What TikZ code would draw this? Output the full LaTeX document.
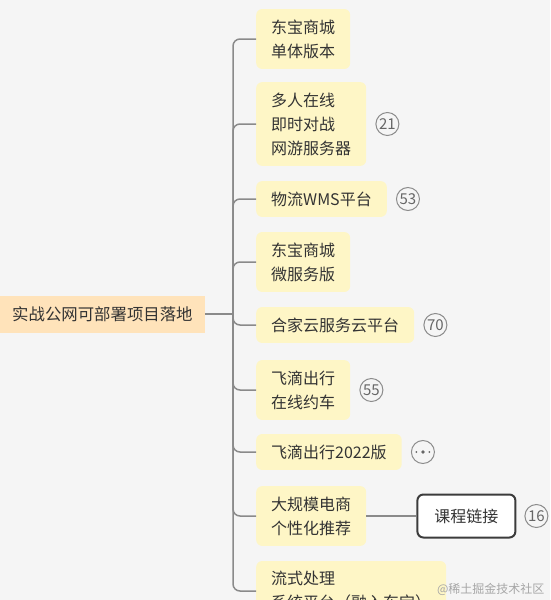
\documentclass[tikz,border=0pt]{standalone}
\usepackage{fontspec}
\setmainfont{Noto Sans CJK SC}
\usetikzlibrary{positioning}
\definecolor{bgc}{HTML}{F5F5F5}
\definecolor{leafy}{HTML}{FEF6C6}
\definecolor{rootc}{HTML}{FFE3BA}
\definecolor{lineg}{HTML}{8A8A8A}
\definecolor{badgeg}{HTML}{8C8C8C}
\definecolor{badgetxt}{HTML}{666666}
\definecolor{txt}{HTML}{333333}
\definecolor{boxb}{HTML}{3C3C3C}
\begin{document}
\begin{tikzpicture}[x=1pt,y=-1pt,
  rootbox/.style={fill=rootc, anchor=west, inner xsep=12pt, inner ysep=0pt, minimum height=37pt, font=\fontsize{16.4}{24}\selectfont, text=txt},
  leaf/.style={fill=leafy, rounded corners=6pt, anchor=west, align=left, inner xsep=15pt, inner ysep=10.5pt, font=\fontsize{16}{24}\selectfont, text=txt},
  badge/.style={circle, draw=badgeg, line width=1pt, minimum size=23pt, inner sep=0pt, font=\fontsize{15}{15}\selectfont, text=badgetxt},
  linkbox/.style={draw=boxb, line width=2pt, fill=white, rounded corners=6pt, minimum width=98pt, minimum height=43pt, font=\fontsize{16}{24}\selectfont, text=txt},
  br/.style={draw=lineg, line width=1.5pt, rounded corners=7pt}]
\useasboundingbox (0,0) rectangle (550,600);
\clip (0,0) rectangle (550,600);
\fill[bgc] (0,0) rectangle (550,600);

\node[rootbox] (root) at (0,314) {实战公网可部署项目落地};
\coordinate (J) at (233,314);

\node[leaf] (n1) at (256,39) {东宝商城\\单体版本};
\node[leaf] (n2) at (256,124) {多人在线\\即时对战\\网游服务器};
\node[leaf] (n3) at (256,199) {物流WMS平台};
\node[leaf] (n4) at (256,262) {东宝商城\\微服务版};
\node[leaf] (n5) at (256,325) {合家云服务云平台};
\node[leaf] (n6) at (256,390) {飞滴出行\\在线约车};
\node[leaf] (n7) at (256,452) {飞滴出行2022版};
\node[leaf] (n8) at (256,516) {大规模电商\\个性化推荐};
\node[leaf] (n9) at (256,591) {流式处理\\系统平台（融入东宝）};

\draw[br] (root.east) -- (J);
\foreach \n in {n1,n2,n3,n4,n5,n6,n7,n8,n9}
  \draw[br] (J) |- (\n.west);

\node[badge, right=9pt of n2] (b2) {21};
\node[badge, right=9pt of n3] (b3) {53};
\node[badge, right=9pt of n5] (b5) {70};
\node[badge, right=9pt of n6] (b6) {55};
\node[badge, right=9pt of n7] (b7) {};
\fill[badgetxt] ([xshift=-6.5pt]b7.center) circle (1pt);
\fill[badgetxt] (b7.center) circle (1.9pt);
\fill[badgetxt] ([xshift=6.5pt]b7.center) circle (1pt);

\node[linkbox, right=50pt of n8] (c1) {课程链接};
\draw[br] (n8.east) -- (c1.west);
\node[badge, right=8pt of c1] (b8) {16};

\node[anchor=east, text=black!35, font=\fontsize{12}{12}\selectfont] (wm) at (548,589) {@稀土掘金技术社区};
\end{tikzpicture}
\end{document}
